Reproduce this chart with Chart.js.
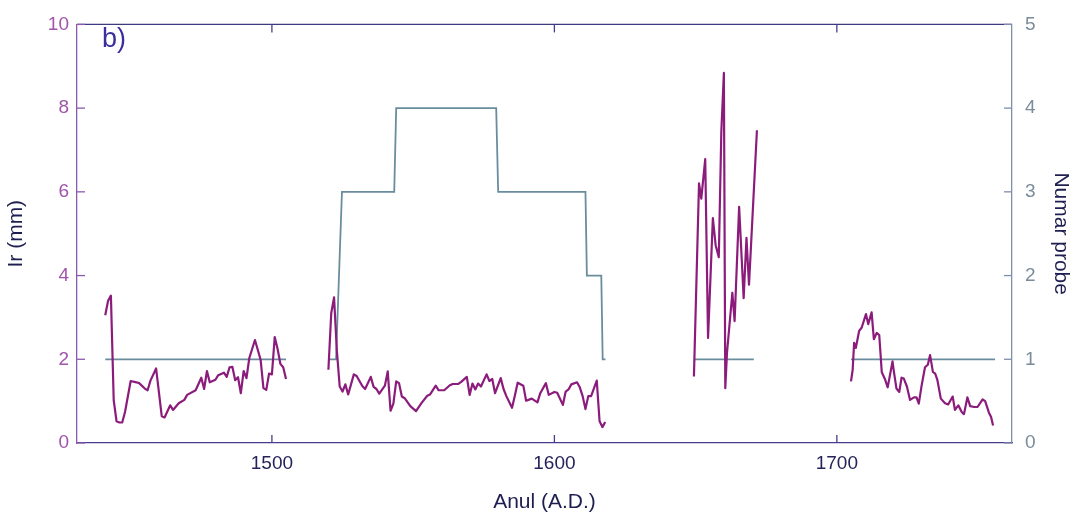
<!DOCTYPE html>
<html>
<head>
<meta charset="utf-8">
<script src="https://cdn.jsdelivr.net/npm/chart.js@4.4.1/dist/chart.umd.min.js"></script>
<style>
  html, body { margin: 0; padding: 0; background: #ffffff; }
  #wrap { width: 1077px; height: 516px; }
</style>
</head>
<body>
<div id="wrap"><canvas id="c" width="1077" height="516"></canvas></div>
<script>
// ---- Ring width (Ir, mm), four measured segments ----
const irYears1 = [1441,1442,1443,1444,1445,1446,1447,1448,1450,1452,1453,1455,1456,1457,1459,1461,1462,1464,1465,1467,1469,1470,1473,1475,1476,1477,1478,1480,1481,1483,1484,1485,1486,1487,1488,1489,1490,1491,1492,1494,1496,1497,1498,1499,1500,1501,1502,1503,1504,1505];
const irValues1 = [3.05,3.40,3.52,1.02,0.52,0.49,0.49,0.74,1.48,1.45,1.43,1.30,1.26,1.49,1.78,0.64,0.61,0.90,0.79,0.95,1.03,1.15,1.26,1.56,1.29,1.72,1.45,1.51,1.62,1.68,1.58,1.81,1.82,1.50,1.57,1.19,1.72,1.55,2.03,2.46,1.99,1.31,1.27,1.66,1.64,2.53,2.25,1.89,1.81,1.53];

const irYears2 = [1520,1521,1522,1523,1524,1525,1526,1527,1529,1530,1532,1533,1535,1536,1537,1538,1540,1541,1542,1543,1544,1545,1546,1547,1549,1551,1553,1555,1556,1558,1559,1561,1563,1564,1566,1567,1569,1570,1571,1572,1573,1574,1576,1577,1578,1579,1581,1582,1583,1585,1586,1587,1589,1590,1592,1594,1595,1597,1598,1600,1601,1603,1604,1605,1606,1608,1609,1610,1611,1612,1613,1615,1616,1617,1618];
const irValues2 = [1.75,3.10,3.48,2.20,1.35,1.23,1.40,1.16,1.64,1.60,1.36,1.29,1.58,1.34,1.29,1.18,1.37,1.71,0.77,0.94,1.47,1.43,1.11,1.07,0.88,0.76,0.96,1.13,1.16,1.37,1.26,1.26,1.38,1.41,1.41,1.46,1.58,1.15,1.42,1.28,1.42,1.35,1.64,1.48,1.53,1.19,1.55,1.29,1.12,0.84,1.13,1.44,1.37,1.01,1.06,0.97,1.19,1.43,1.15,1.22,1.20,0.91,1.23,1.28,1.40,1.45,1.33,1.12,0.81,1.12,1.12,1.49,0.52,0.38,0.50];

const irYears3 = [1649.4,1651.2,1652.0,1653.4,1654.4,1656.1,1657.1,1658.2,1659.1,1660.0,1660.5,1661.1,1663.0,1663.8,1665.4,1667.0,1668.0,1668.9,1671.7];
const irValues3 = [1.59,6.20,5.84,6.78,2.51,5.37,4.72,4.44,7.44,8.84,1.31,2.15,3.59,2.91,5.64,3.46,4.90,3.78,7.47];

const irYears4 = [1705.0,1705.6,1706.1,1706.7,1707.9,1708.8,1710.3,1711.1,1712.3,1713.1,1714.1,1715.0,1715.9,1717.0,1718.0,1719.7,1720.2,1721.1,1722.1,1722.9,1723.7,1724.8,1725.9,1727.3,1728.2,1729.0,1730.0,1731.2,1732.2,1733.0,1734.0,1734.8,1735.6,1736.8,1738.3,1739.4,1741.0,1741.8,1743.0,1744.2,1745.0,1746.2,1747.2,1748.6,1749.8,1751.6,1752.5,1753.8,1754.6,1755.3];
const irValues4 = [1.47,1.75,2.39,2.27,2.68,2.76,3.08,2.84,3.12,2.48,2.63,2.58,1.69,1.53,1.33,1.95,1.70,1.30,1.22,1.56,1.54,1.35,1.03,1.09,1.09,0.94,1.37,1.81,1.87,2.10,1.70,1.66,1.50,1.06,0.95,0.92,1.11,0.79,0.90,0.74,0.69,1.09,0.88,0.86,0.86,1.04,1.00,0.73,0.62,0.42];

// ---- Sample depth (Numar probe) ----
const nYears1 = [1441,1505];
const nValues1 = [1,1];
const nYears2 = [1520.5,1522.7,1524.8,1543.3,1544.0,1579.4,1580.1,1611.0,1611.5,1616.6,1617.1,1618.1];
const nValues2 = [1,1,3,3,4,4,3,3,2,2,1,1];
const nYears3 = [1649.6,1670.6];
const nValues3 = [1,1];
const nYears4 = [1705,1756];
const nValues4 = [1,1];

// ---- Axes ----
const xTicks = [1500,1600,1700];
const xMin = 1431, xMax = 1762;
const yLeftMin = 0, yLeftMax = 10, yLeftStep = 2;
const yRightMin = 0, yRightMax = 5, yRightStep = 1;

const PURPLE = '#8c1c7c';
const BLUE = '#6a8d9e';

function pts(xs, ys) { return xs.map((x, i) => ({x: x, y: ys[i]})); }

const irSets = [[irYears1, irValues1],[irYears2, irValues2],[irYears3, irValues3],[irYears4, irValues4]];
const nSets = [[nYears1, nValues1],[nYears2, nValues2],[nYears3, nValues3],[nYears4, nValues4]];

const datasets = [];
irSets.forEach(s => datasets.push({
  data: pts(s[0], s[1]), yAxisID: 'y', borderColor: PURPLE, borderWidth: 2.2,
  showLine: true, pointRadius: 0, tension: 0, order: 1, borderJoinStyle: 'round'
}));
nSets.forEach(s => datasets.push({
  data: pts(s[0], s[1]), yAxisID: 'y2', borderColor: BLUE, borderWidth: 1.8,
  showLine: true, pointRadius: 0, tension: 0, order: 2
}));

const innerTicks = {
  id: 'innerTicks',
  afterDraw(chart) {
    const ctx = chart.ctx, a = chart.chartArea;
    const L = 8;
    ctx.save();
    ctx.lineWidth = 1.3;
    ctx.strokeStyle = '#3d3a80';
    ctx.beginPath(); ctx.moveTo(a.left, a.top); ctx.lineTo(a.right, a.top); ctx.stroke();
    const sx = chart.scales.x, sy = chart.scales.y, sy2 = chart.scales.y2;
    ctx.strokeStyle = '#4a3c8c';
    sx.ticks.forEach(t => {
      const px = sx.getPixelForValue(t.value);
      ctx.beginPath(); ctx.moveTo(px, a.bottom); ctx.lineTo(px, a.bottom - L); ctx.stroke();
      ctx.beginPath(); ctx.moveTo(px, a.top); ctx.lineTo(px, a.top + L); ctx.stroke();
    });
    ctx.strokeStyle = '#8a5ab0';
    sy.ticks.forEach(t => {
      const py = sy.getPixelForValue(t.value);
      ctx.beginPath(); ctx.moveTo(a.left, py); ctx.lineTo(a.left + L, py); ctx.stroke();
    });
    ctx.strokeStyle = '#7f8fab';
    sy2.ticks.forEach(t => {
      const py = sy2.getPixelForValue(t.value);
      ctx.beginPath(); ctx.moveTo(a.right, py); ctx.lineTo(a.right - L, py); ctx.stroke();
    });
    ctx.fillStyle = '#3b2fa0';
    ctx.font = '27px "Liberation Sans", Arial, sans-serif';
    ctx.textAlign = 'left';
    ctx.textBaseline = 'alphabetic';
    ctx.fillText('b)', 102, 47);
    ctx.restore();
  }
};

const FONT = '"Liberation Sans", Arial, sans-serif';

new Chart(document.getElementById('c'), {
  type: 'scatter',
  data: { datasets: datasets },
  options: {
    responsive: false,
    animation: false,
    layout: { padding: { top: 24, left: 0, right: 0, bottom: 0 } },
    plugins: { legend: { display: false }, tooltip: { enabled: false } },
    scales: {
      x: {
        type: 'linear', position: 'bottom', min: xMin, max: xMax,
        afterBuildTicks(s) { s.ticks = xTicks.map(v => ({value: v})); },
        afterFit(s) { s.height = 73; },
        grid: { display: false, drawTicks: false },
        border: { display: true, color: '#4a3c8c', width: 1.3 },
        ticks: { color: '#24245a', font: { family: FONT, size: 19 }, padding: 9, maxRotation: 0,
                 callback: v => String(v) },
        title: { display: true, text: 'Anul (A.D.)', color: '#1e1e50', font: { family: FONT, size: 21 }, padding: { top: 0, bottom: 1 } }
      },
      y: {
        type: 'linear', position: 'left', min: yLeftMin, max: yLeftMax,
        ticks: { stepSize: yLeftStep, color: '#a055ab', font: { family: FONT, size: 19 }, padding: 8,
                 callback: v => String(v) },
        afterFit(s) { s.width = 77; },
        grid: { display: false, drawTicks: false },
        border: { display: true, color: '#8a5ab0', width: 1.3 },
        title: { display: true, text: 'Ir (mm)', color: '#1e1e50', font: { family: FONT, size: 21 }, padding: { top: 4, bottom: 0 } }
      },
      y2: {
        type: 'linear', position: 'right', min: yRightMin, max: yRightMax,
        ticks: { stepSize: yRightStep, color: '#7a8c9a', font: { family: FONT, size: 19 }, padding: 13,
                 callback: v => String(v) },
        afterFit(s) { s.width = 65; },
        grid: { display: false, drawTicks: false },
        border: { display: true, color: '#7f8fab', width: 1.3 },
        title: { display: true, text: 'Numar probe', color: '#1e1e50', font: { family: FONT, size: 21 }, padding: { top: 4, bottom: 0 } }
      }
    }
  },
  plugins: [innerTicks]
});
</script>
</body>
</html>
